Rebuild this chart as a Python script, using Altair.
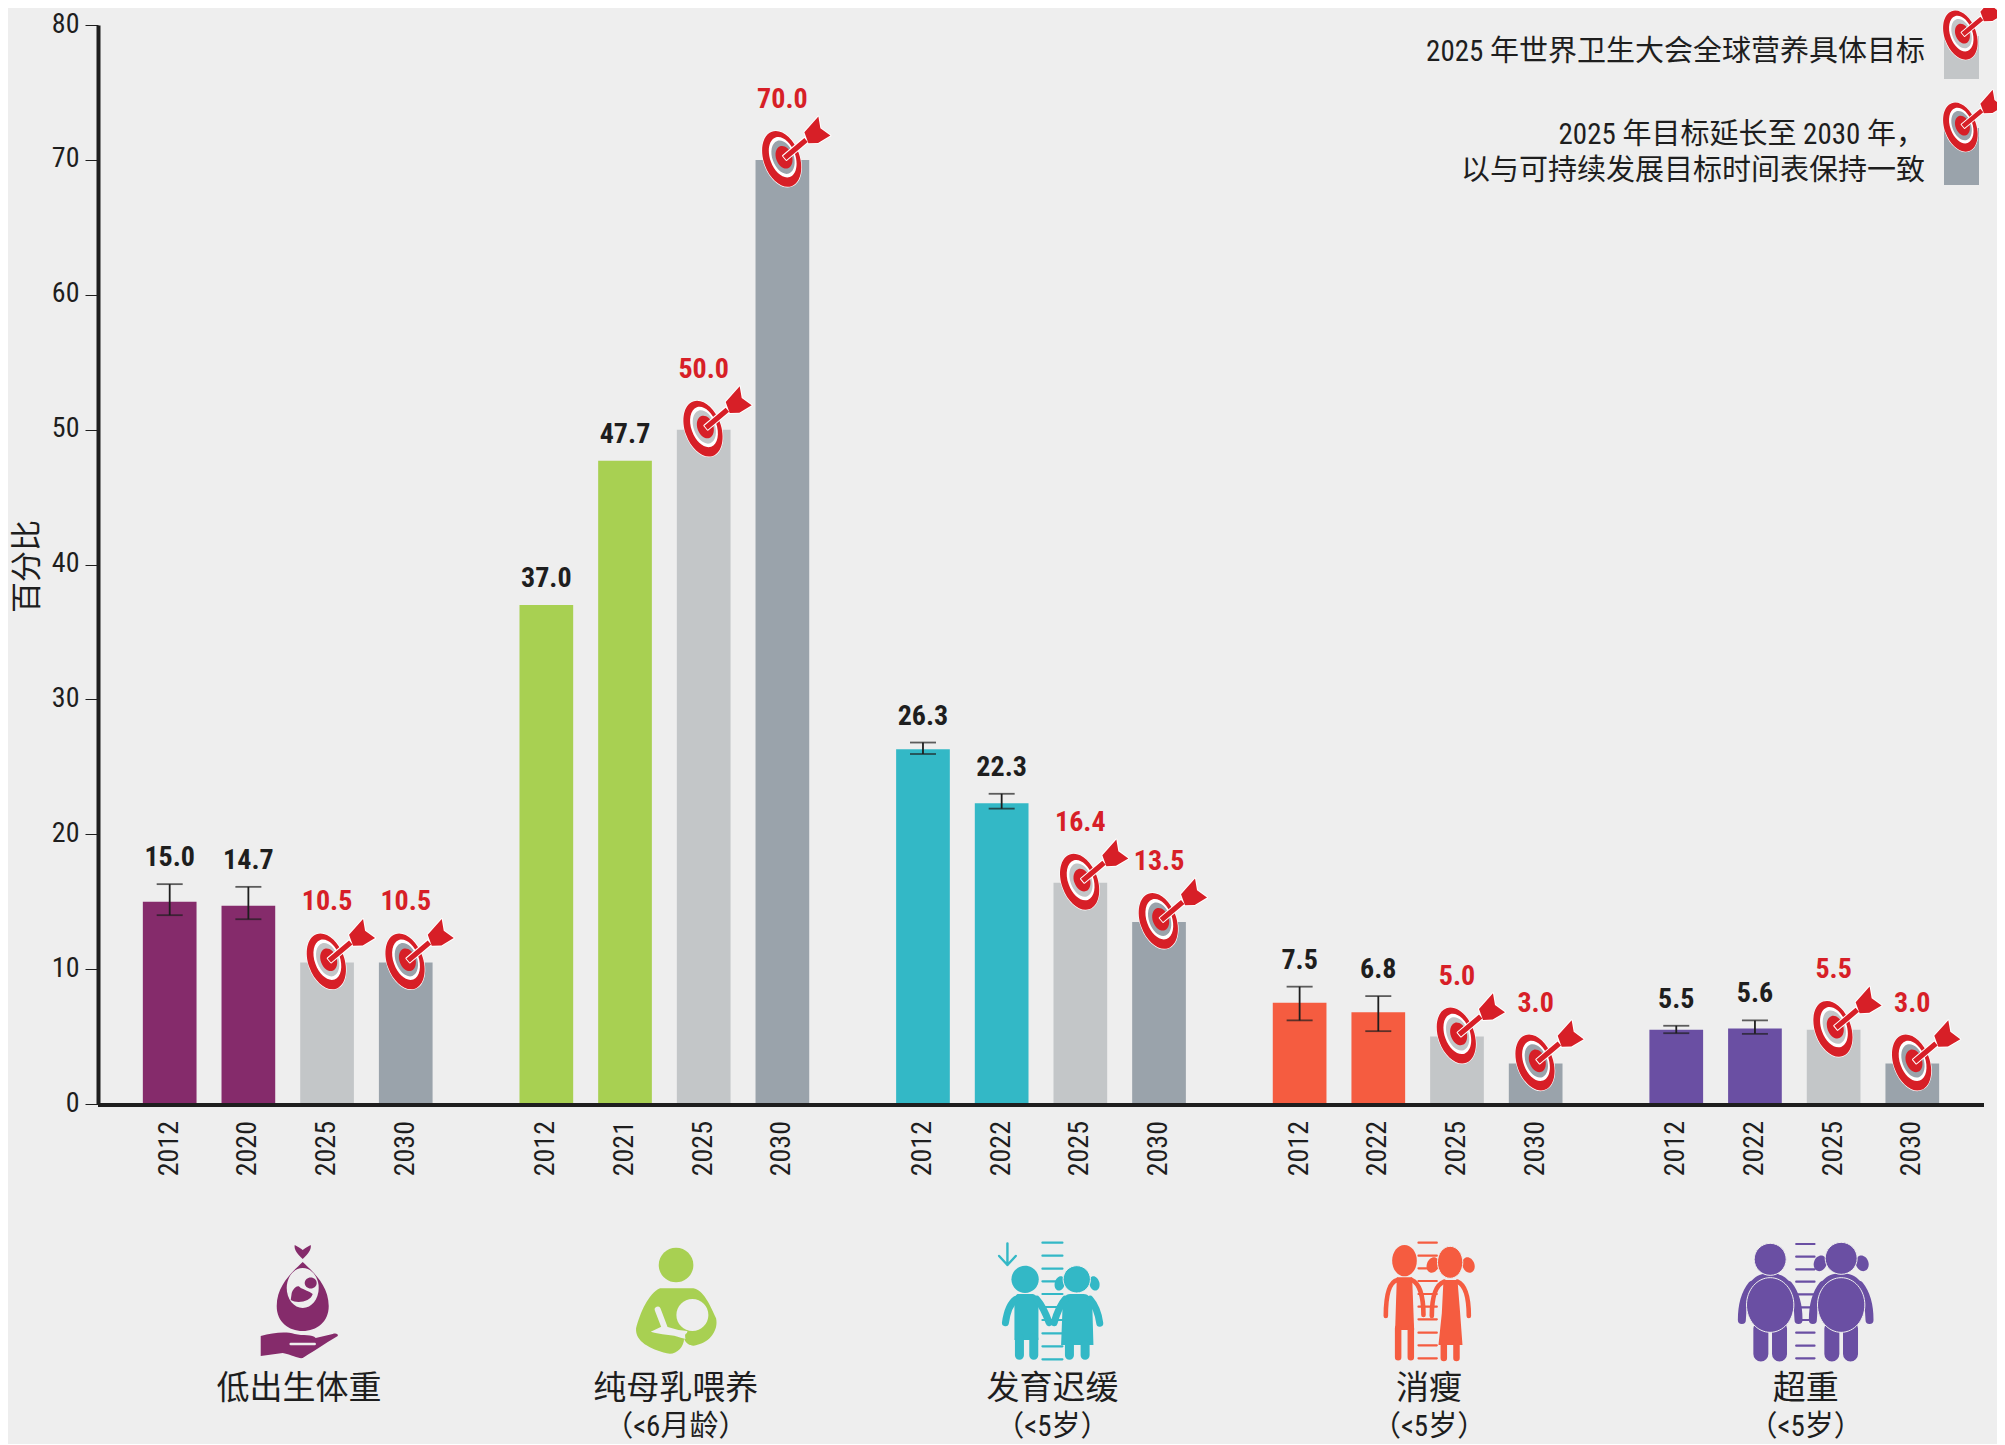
import math
import re
import altair as alt
import pandas as pd

# ---------- data ----------
groups = ["低出生体重", "纯母乳喂养", "发育迟缓", "消瘦", "超重"]
sublabels = ["", "（<6月龄）", "（<5岁）", "（<5岁）", "（<5岁）"]
years = [
    ["2012", "2020", "2025", "2030"],
    ["2012", "2021", "2025", "2030"],
    ["2012", "2022", "2025", "2030"],
    ["2012", "2022", "2025", "2030"],
    ["2012", "2022", "2025", "2030"],
]
values = [
    [15.0, 14.7, 10.5, 10.5],
    [37.0, 47.7, 50.0, 70.0],
    [26.3, 22.3, 16.4, 13.5],
    [7.5, 6.8, 5.0, 3.0],
    [5.5, 5.6, 5.5, 3.0],
]
err_low = [
    [14.0, 13.7, None, None],
    [None, None, None, None],
    [25.95, 21.9, None, None],
    [6.2, 5.4, None, None],
    [5.25, 5.2, None, None],
]
err_high = [
    [16.3, 16.1, None, None],
    [None, None, None, None],
    [26.8, 23.0, None, None],
    [8.7, 8.0, None, None],
    [5.8, 6.2, None, None],
]
group_colors = ["#852b6b", "#a8d052", "#33b8c6", "#f55c40", "#6a4fa3"]
GREY_2025 = "#c3c6c8"
GREY_2030 = "#9aa3ab"
RED = "#d71f27"
INK = "#1e1e1e"
BG = "#eeeeee"
LATIN = "Roboto Condensed, Liberation Sans, Noto Sans CJK SC"
legend_lines = ["2025 年世界卫生大会全球营养具体目标", "2025 年目标延长至 2030 年，", "以与可持续发展目标时间表保持一致"]
legend_line_y = [27, 110, 146]

rows = []
for g, name in enumerate(groups):
    for s in range(4):
        v = values[g][s]
        hi = err_high[g][s]
        rows.append({
            "group": name, "slot": s, "year": years[g][s], "value": v,
            "lo": err_low[g][s], "hi": hi,
            "anchor": hi if hi is not None else v,
            "color": group_colors[g] if s < 2 else (GREY_2025 if s == 2 else GREY_2030),
        })
df = pd.DataFrame(rows)
df_obs = df[df.slot < 2]
df_target = df[df.slot >= 2]
df_err = df[df.hi.notna()]
df_groups = pd.DataFrame({"group": groups, "sub": sublabels})

# ---------- layout ----------
W, H = 1886, 1079
YS = alt.Scale(domain=[0, 80])
Y_AXIS = alt.Axis(values=list(range(0, 90, 10)), grid=False, domainColor=INK, domainWidth=4,
                  tickColor=INK, tickWidth=1, tickSize=13, labelFont=LATIN, labelFontSize=28,
                  labelColor=INK, labelPadding=6, labelOffset=-1, titleFont="Noto Sans CJK SC", titleFontSize=31,
                  titleFontWeight="normal", titleColor=INK, titleX=-71, titleY=541,
                  titleBaseline="middle")
X = alt.X("group:N", sort=groups, title=None,
          scale=alt.Scale(paddingInner=0.1646, paddingOuter=0.086, round=False), axis=None)
XO = alt.XOffset("slot:N", scale=alt.Scale(paddingInner=0.317, paddingOuter=0.158, round=False))


def y_of(field):
    return alt.Y(field, scale=YS, title="百分比", axis=Y_AXIS)


# ---------- shape helpers (outlines of pictograms) ----------
def norm(path, ox, oy, k):
    out, i = [], 0
    for tok in re.findall(r"[MLCZ]|-?\d+\.?\d*", path):
        if tok in "MLCZ":
            out.append(tok)
        else:
            out.append(f"{(float(tok) - (ox if i % 2 == 0 else oy)) * k:.2f}")
            i += 1
    return " ".join(out)


def ell(cx, cy, a, b=None, rot=0, rev=False):
    b = a if b is None else b
    r = math.radians(rot)
    ux, uy, vx, vy = a * math.cos(r), a * math.sin(r), -b * math.sin(r), b * math.cos(r)
    if rev:
        vx, vy = -vx, -vy
    m = 0.5523
    pt = lambda p, q: f"{cx + p * ux + q * vx:.2f} {cy + p * uy + q * vy:.2f}"
    return (f"M {pt(1, 0)} C {pt(1, m)} {pt(m, 1)} {pt(0, 1)} C {pt(-m, 1)} {pt(-1, m)} {pt(-1, 0)} "
            f"C {pt(-1, -m)} {pt(-m, -1)} {pt(0, -1)} C {pt(m, -1)} {pt(1, -m)} {pt(1, 0)} Z ")


def lines(x0, x1, ys):
    return " ".join(f"M {x0} {y} L {x1} {y}" for y in ys)


# ---------- target pictogram ----------
T = lambda p: norm(p, 110, 158, 1 / 3)
T_OUTER = T(ell(108, 155, 87, 54, 70))
T_RING = T(ell(108, 155, 87, 54, 70) + ell(111, 150, 63, 38, 70, rev=True))
T_DISC = T(ell(112, 150, 52, 32, 70))
T_BULL = T(ell(115, 150, 35, 24, 70))
T_ARROW = T("M 112 146 L 176 92 L 186 104 L 122 158 Z M 176 75 L 218 28 L 224 63 L 254 85 L 217 107 L 188 108 Z")


def target_layers(data, xy, size):
    f = math.sqrt(size) / 2

    def pt(shape, **kw):
        return alt.Chart(data).mark_point(shape=shape, size=size, opacity=1, **kw)

    return [
        pt(T_OUTER, filled=True, fill="#ffffff", stroke="#ffffff", strokeWidth=1.2 * f).encode(**xy),
        pt(T_RING, filled=True, fill=RED, strokeWidth=0).encode(**xy),
        pt(T_DISC, filled=True, strokeWidth=0).encode(color=alt.Color("color:N", scale=None), **xy),
        pt(T_BULL, filled=True, fill=RED, strokeWidth=0).encode(**xy),
        pt(T_ARROW, filled=True, fill="#ffffff", stroke="#ffffff", strokeWidth=2 * f, strokeJoin="round").encode(**xy),
        pt(T_ARROW, filled=True, fill=RED, strokeWidth=0).encode(**xy),
    ]


# ---------- group pictograms ----------
def stroke(path, width):
    return ("stroke", path, width)


def fill(path):
    return ("fill", path, 0)


def halo(path, width=1.0):
    return ("halo", path, width)


CY = 1300


def icon_bag():
    n = lambda p: norm(p, -15, 0, 1)
    return [
        fill(n("M 0 -38 C 8 -30 26 -16 26 6 C 26 22 14 31 0 31 C -14 31 -26 22 -26 6 C -26 -16 -8 -30 0 -38 Z")),
        fill(n("M 0 -41 C -5 -46 -9 -50 -8 -55 C -5 -53 -2 -52 0 -50 C 2 -52 5 -53 8 -55 C 9 -50 5 -46 0 -41 Z")),
        ("bg", n(ell(0, -12, 16, 20)), 0),
        fill(n(ell(8, -17, 6, 5.5))),
        fill(n("M -11 -7 C -9 -12 -5 -16 -2 -12 C 2 -10 6 -9 10 -6 C 8 2 -6 4 -12 0 Z")),
        fill(n("M -42 36 C -30 33 -18 31 -8 34 C 0 36 10 34 13 38 L 30 34 C 33 33 36 34 35 36 C 28 40 16 48 0 58 "
               "C -4 59 -10 55 -20 53 L -42 56 Z")),
        ("bgline", n("M -12 44 L 12 44"), 2.5),
    ]


def icon_mother():
    n = lambda p: norm(p, 162.9, 195, 1 / 3)
    return [
        fill(n(ell(198, 90, 52))),
        fill(n("M 150 160 L 250 160 C 280 165 300 210 318 250 C 326 285 300 322 260 330 C 240 335 225 325 222 310 "
               "C 222 340 195 362 170 355 C 120 342 75 320 78 280 C 90 235 115 175 150 160 Z")),
        ("bg", n(ell(247, 240, 48)), 0),
        ("bgline", n("M 143 224 L 163 276"), 6),
        ("bg", n("M 122 290 L 160 272 L 205 285 L 232 288 L 228 312 L 212 308 C 190 298 150 300 122 290 Z"), 0),
        fill(n("M 225 300 C 228 290 245 290 255 290 L 260 330 C 240 335 225 325 225 300 Z")),
    ]


def icon_kid1():
    n = lambda p: norm(p, 167.7, 210, 1 / 3)
    return [
        stroke(n(lines(172, 232, [38, 77, 116, 154, 192, 231, 270, 310, 349, 388])), 2.2),
        stroke(n("M 67 40 L 67 105 M 42 78 L 67 105 L 92 78"), 2.4),
        fill(n(ell(120, 148, 41))),
        fill(n("M 100 192 L 140 192 C 150 192 158 200 160 215 L 160 330 L 88 330 L 88 215 C 90 200 92 192 100 192 Z")),
        stroke(n("M 103 325 L 103 376 M 146 325 L 146 376"), 9),
        stroke(n("M 92 208 C 75 220 65 250 61 278 M 155 208 C 170 225 182 250 192 278"), 7),
        fill(n(ell(224, 160, 15, 22, 15))),
        fill(n(ell(328, 160, 15, 22, -15))),
        halo(n(ell(275, 148, 41))),
        fill(n("M 255 192 L 295 192 C 312 192 320 205 322 240 L 325 345 L 228 345 L 232 240 C 233 205 240 192 255 192 Z")),
        stroke(n("M 253 345 L 253 376 M 300 345 L 300 376"), 9),
        stroke(n("M 240 208 C 225 225 215 250 207 278 M 315 208 C 330 225 340 250 344 280"), 7),
    ]


def icon_kid2():
    n = lambda p: norm(p, 142.5, 210, 1 / 3)
    return [
        stroke(n(lines(145, 200, [38, 77, 115, 153, 192, 230, 268, 308, 346, 385])), 2.2),
        fill(n(ell(103, 92, 37, 47))),
        fill(n("M 80 142 L 126 142 L 132 300 L 75 300 Z")),
        stroke(n("M 84 295 L 84 382 M 122 295 L 122 382"), 6.5),
        stroke(n("M 82 150 C 60 155 47 190 47 258 M 125 150 C 148 160 160 200 160 255"), 4.6),
        fill(n(ell(188, 105, 18, 24, 20))),
        fill(n(ell(295, 105, 18, 24, -20))),
        halo(n(ell(240, 97, 38, 48))),
        fill(n("M 220 150 L 262 150 L 270 250 L 277 345 L 205 345 L 215 250 Z")),
        stroke(n("M 221 340 L 221 384 M 259 340 L 259 384"), 6.5),
        stroke(n("M 222 155 C 195 165 185 200 185 258 M 262 155 C 285 165 296 200 296 258"), 4.6),
    ]


def icon_kid3():
    n = lambda p: norm(p, 192.3, 210, 1 / 3)
    kid = lambda c: [
        stroke(n(f"M {c - 28} 295 L {c - 28} 372 M {c + 28} 295 L {c + 28} 372"), 15),
        stroke(n(f"M {c - 55} 165 C {c - 75} 190 {c - 85} 230 {c - 85} 270 "
                 f"M {c + 55} 165 C {c + 75} 190 {c + 85} 230 {c + 85} 270"), 8),
        fill(n(f"M {c} 130 C {c - 50} 130 {c - 70} 160 {c - 75} 210 L {c + 75} 210 C {c + 70} 160 {c + 50} 130 {c} 130 Z")),
        halo(n(ell(c, 225, 71, 82))),
    ]
    return ([stroke(n(lines(198, 253, [42, 80, 118, 155, 193, 232, 270, 308, 347, 385])), 2.2)]
            + kid(120) + kid(333)
            + [fill(n(ell(270, 100, 19, 24, 20))), fill(n(ell(396, 100, 19, 24, -20))),
               halo(n(ell(120, 88, 48))), halo(n(ell(333, 85, 48)))])


icons = [icon_bag(), icon_mother(), icon_kid1(), icon_kid2(), icon_kid3()]


def icon_layers():
    out = []
    for g, parts in enumerate(icons):
        one = df_groups.iloc[[g]]
        c = group_colors[g]
        for kind, path, w in parts:
            kw = dict(shape=path, size=4, opacity=1)
            if kind == "fill":
                kw.update(filled=True, fill=c, strokeWidth=0)
            elif kind == "stroke":
                kw.update(filled=False, stroke=c, strokeWidth=w, strokeCap="round", strokeJoin="round")
            elif kind == "halo":
                kw.update(filled=True, fill=c, stroke=BG, strokeWidth=w)
            elif kind == "bg":
                kw.update(filled=True, fill=BG, strokeWidth=0)
            else:
                kw.update(filled=False, stroke=BG, strokeWidth=w, strokeCap="round")
            out.append(alt.Chart(one).mark_point(**kw).encode(x=X, y=alt.value(CY - 25)))
    return out


# ---------- chart ----------
bars = alt.Chart(df).mark_bar(size=53.7).encode(
    x=X, xOffset=XO, y=y_of("value:Q"), color=alt.Color("color:N", scale=None))
baseline = alt.Chart(df_groups).mark_rule(color=INK, strokeWidth=4).encode(
    x=alt.value(0), x2=alt.value(W), y=alt.value(H + 1))
err_rule = alt.Chart(df_err).mark_rule(color=INK, strokeWidth=1.8).encode(
    x=X, xOffset=XO, y=y_of("lo:Q"), y2="hi:Q")
cap_lo = alt.Chart(df_err).mark_tick(color=INK, thickness=1.8, size=26, orient="horizontal").encode(
    x=X, xOffset=XO, y=y_of("lo:Q"))
cap_hi = alt.Chart(df_err).mark_tick(color=INK, thickness=1.8, size=26, orient="horizontal").encode(
    x=X, xOffset=XO, y=y_of("hi:Q"))
label_obs = alt.Chart(df_obs).mark_text(font=LATIN, fontSize=28, fontWeight="bold", color=INK, dy=-26,
                                        baseline="middle").encode(
    x=X, xOffset=XO, y=y_of("anchor:Q"), text=alt.Text("value:Q", format=".1f"))
label_tgt = alt.Chart(df_target).mark_text(font=LATIN, fontSize=28, fontWeight="bold", color=RED, dy=-60,
                                           baseline="middle").encode(
    x=X, xOffset=XO, y=y_of("value:Q"), text=alt.Text("value:Q", format=".1f"))
year_text = alt.Chart(df).mark_text(font=LATIN, fontSize=28, color=INK, angle=270, align="right",
                                    baseline="middle").encode(
    x=X, xOffset=XO, y=alt.value(1096), text="year:N")
name_text = alt.Chart(df_groups).mark_text(font="Noto Sans CJK SC", fontSize=33, color=INK, dx=11.4,
                                           baseline="middle").encode(
    x=X, y=alt.value(1364), text="group:N")
sub_text = alt.Chart(df_groups).mark_text(font=LATIN, fontSize=29, color=INK, dx=11.4,
                                          baseline="middle").encode(
    x=X, y=alt.value(1402), text="sub:N")

tgt_xy = dict(x=X, xOffset=XO, y=y_of("value:Q"))

legend_df = pd.DataFrame({"color": [GREY_2025, GREY_2030]})
leg_rects = []
leg_targets = []
for i, (top, bottom) in enumerate([(11, 54), (103, 160)]):
    row = legend_df.iloc[[i]]
    leg_rects.append(alt.Chart(row).mark_rect(color=legend_df.color[i]).encode(
        x=alt.value(1846), x2=alt.value(1881), y=alt.value(top), y2=alt.value(bottom)))
    leg_targets += target_layers(row, dict(x=alt.value(1863), y=alt.value(top)), 3.1)

legend_texts = []
for line, ly in zip(legend_lines, legend_line_y):
    legend_texts.append(
        alt.Chart(pd.DataFrame({"t": [line]})).mark_text(
            font=LATIN, fontSize=29, color=INK, align="right", baseline="middle"
        ).encode(x=alt.value(1827), y=alt.value(ly), text="t:N"))

layers = ([bars, err_rule, cap_lo, cap_hi, baseline]
          + target_layers(df_target, tgt_xy, 4)
          + [label_obs, label_tgt, year_text, name_text, sub_text]
          + icon_layers()
          + leg_rects + leg_targets + legend_texts)

chart = alt.layer(*layers).resolve_scale(color="independent").properties(
    width=W, height=H, background=BG,
    autosize=alt.AutoSizeParams(type="none"),
    padding={"left": 90, "top": 17, "right": 13, "bottom": 340},
).configure_view(stroke=None)

chart.save("out.html", embed_options={"renderer": "svg", "actions": False})
